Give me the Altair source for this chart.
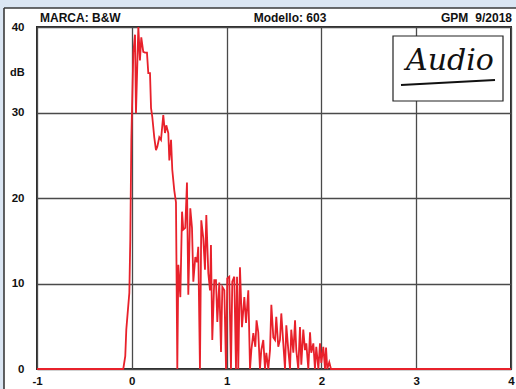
import altair as alt
import pandas as pd

# Impulse / energy-time response
t_ms = [-1.0, -0.090, -0.069, -0.058, -0.026, -0.016, -0.005, 0.016, 0.034, 0.044,
        0.069, 0.086, 0.100, 0.121, 0.139, 0.160, 0.174, 0.192, 0.203, 0.216,
        0.237, 0.255, 0.269, 0.290, 0.308, 0.332, 0.350, 0.364, 0.385, 0.396,
        0.414, 0.427, 0.448, 0.466, 0.480, 0.491, 0.512, 0.530, 0.543, 0.564,
        0.582, 0.596, 0.617, 0.635, 0.649, 0.670, 0.688, 0.701, 0.719, 0.733,
        0.754, 0.772, 0.786, 0.807, 0.825, 0.835, 0.849, 0.870, 0.888, 0.902,
        0.923, 0.941, 0.955, 0.976, 0.994, 1.007, 1.028, 1.046, 1.060, 1.081,
        1.099, 1.110, 1.123, 1.141, 1.162, 1.187, 1.205, 1.229, 1.247, 1.261,
        1.282, 1.303, 1.316, 1.334, 1.352, 1.366, 1.387, 1.405, 1.419, 1.440,
        1.458, 1.472, 1.493, 1.511, 1.524, 1.545, 1.563, 1.577, 1.598, 1.616,
        1.630, 1.651, 1.669, 1.682, 1.704, 1.722, 1.735, 1.756, 1.774, 1.788,
        1.809, 1.827, 1.841, 1.862, 1.880, 1.893, 1.915, 1.932, 1.946, 1.968,
        1.985, 1.999, 2.020, 2.038, 2.049, 2.062, 2.083, 2.101, 2.11, 4.0]
db = [0, 0, 1.5, 4.6, 8.9, 15.1, 26.8, 37.0, 39.1, 29.9,
      40.0, 36.1, 38.8, 37.1, 37.0, 37.0, 34.6, 34.6, 30.5, 29.5,
      27.1, 25.6, 26.0, 27.1, 26.8, 29.7, 27.6, 28.5, 27.6, 24.4,
      26.8, 23.3, 20.9, 19.5, 0, 12.2, 8.4, 18.4, 16.3, 16.5,
      21.8, 8.7, 18.8, 16.5, 10.2, 13.1, 12.5, 14.3, 0, 17.4,
      15.3, 11.6, 18.0, 11.2, 9.2, 14.5, 3.4, 10.4, 10.4, 5.5,
      10.1, 2.0, 9.6, 9.2, 0, 10.6, 10.8, 0, 10.2, 10.8,
      0, 10.8, 0, 11.9, 4.9, 8.4, 5.4, 9.2, 0, 2.2,
      4.2, 2.6, 5.7, 4.3, 0, 2.2, 3.4, 0, 1.9, 0,
      2.2, 7.5, 3.7, 3.4, 6.1, 2.6, 3.4, 6.5, 3.0, 0,
      5.1, 2.2, 0, 4.6, 1.9, 5.7, 2.2, 0, 4.9, 0.5,
      4.6, 2.2, 3.0, 0, 4.3, 1.9, 3.0, 0, 2.6, 0,
      3.0, 0.7, 2.6, 0, 2.5, 0, 0.8, 0, 0, 0]

x_ticks = [-1, 0, 1, 2, 3, 4]
y_ticks = [0, 10, 20, 30, 40]
header_left = "MARCA: B&W"
header_mid = "Modello: 603"
header_right_a = "GPM"
header_right_b = "9/2018"
y_unit = "dB"
logo_text = "Audio"

df = pd.DataFrame({"t": t_ms, "db": db})
one = pd.DataFrame({"k": [0]})
FONT = "Liberation Sans"
BLUE = "#dbe6f3"

W, H = 474, 342

xs = alt.Scale(domain=[-1, 4], nice=False, zero=False)
ys = alt.Scale(domain=[0, 40], nice=False, zero=False)

# light-blue margin strips outside the white panel
strip_top = alt.Chart(one).mark_rect(fill=BLUE).encode(
    x=alt.value(-40), x2=alt.value(490), y=alt.value(-30), y2=alt.value(-19)
)
strip_left = alt.Chart(one).mark_rect(fill=BLUE).encode(
    x=alt.value(-40), x2=alt.value(-33), y=alt.value(-30), y2=alt.value(380)
)
edge_top = alt.Chart(one).mark_rule(color="#3a3a3a", strokeWidth=1.6).encode(
    x=alt.value(-33), x2=alt.value(490), y=alt.value(-19)
)
edge_left = alt.Chart(one).mark_rule(color="#3a3a3a", strokeWidth=1.6).encode(
    x=alt.value(-33), y=alt.value(-19), y2=alt.value(380)
)

line = alt.Chart(df).mark_line(color="#e8212b", strokeWidth=1.8, clip=False).encode(
    x=alt.X("t:Q", scale=xs,
            axis=alt.Axis(values=x_ticks, title=None, grid=True, domain=False, ticks=False,
                          labelPadding=6, labelFontWeight="bold", labelFontSize=11.5,
                          labelFont=FONT, labelColor="#111", gridColor="#4a4a4a",
                          gridWidth=1.3, labelFlush=False,
                          labelExpr="'' + datum.value")),
    y=alt.Y("db:Q", scale=ys,
            axis=alt.Axis(values=y_ticks, title=None, grid=True, domain=False, ticks=False,
                          labelPadding=13, labelFontWeight="bold", labelFontSize=11.5,
                          labelFont=FONT, labelColor="#111", gridColor="#4a4a4a",
                          gridWidth=1.3, labelFlush=False)),
)

def txt(s, x, y, align="left", size=12, weight="bold"):
    return alt.Chart(one).mark_text(
        text=s, align=align, baseline="middle", fontSize=size, fontWeight=weight,
        font=FONT, color="#111"
    ).encode(x=alt.value(x), y=alt.value(y))

h1 = txt(header_left, 3, -9)
h2 = txt(header_mid, 253, -9, align="center")
h3a = txt(header_right_a, 404, -9)
h3b = txt(header_right_b, 475, -9, align="right")
unit = txt(y_unit, -27, 46, size=11)

logo_box = alt.Chart(one).mark_rect(fill="white", stroke="#222", strokeWidth=1.2).encode(
    x=alt.value(356), x2=alt.value(466), y=alt.value(9), y2=alt.value(74)
)
logo = alt.Chart(one).mark_text(
    text=logo_text, align="center", baseline="middle", fontSize=30, fontStyle="italic",
    font="DejaVu Serif", color="#111"
).encode(x=alt.value(413), y=alt.value(34))
logo_rule = alt.Chart(one).mark_rule(color="#111", strokeWidth=2).encode(
    x=alt.value(364), x2=alt.value(458), y=alt.value(58), y2=alt.value(53)
)

chart = alt.layer(strip_top, strip_left, edge_top, edge_left, line, logo_box, logo,
                  logo_rule, h1, h2, h3a, h3b, unit).properties(
    width=W, height=H,
    padding={"left": 37, "top": 27, "right": 5, "bottom": 20},
    autosize=alt.AutoSizeParams(type="none"),
    background="white",
).configure_view(stroke="#2a2a2a", strokeWidth=2, fill=None)

chart.save("out.html", embed_options={"renderer": "svg", "actions": False})
